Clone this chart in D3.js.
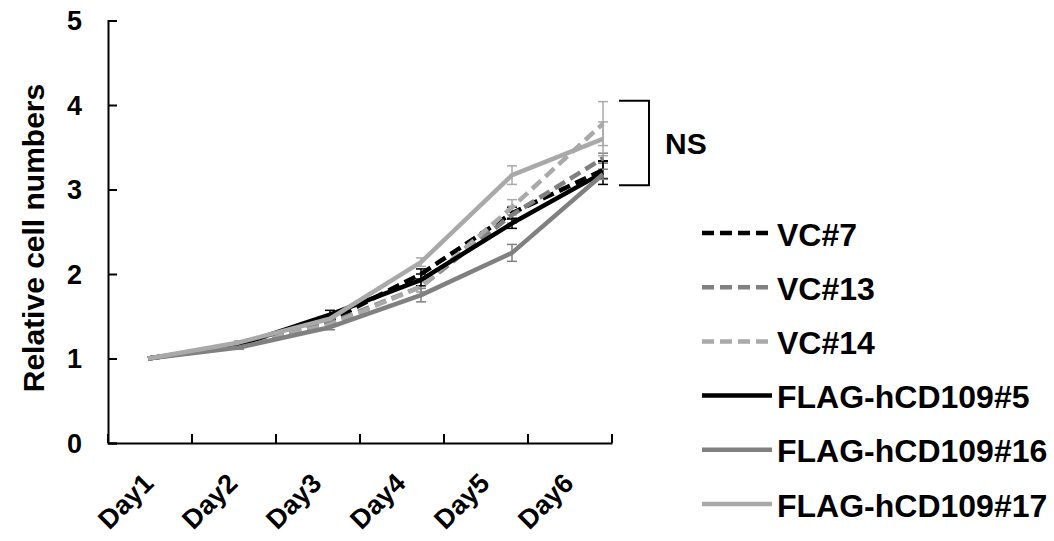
<!DOCTYPE html>
<html>
<head>
<meta charset="utf-8">
<script src="https://cdn.jsdelivr.net/npm/d3@7"></script>
<style>
  body { margin: 0; background: #fff; }
  text { font-family: Arial, "Liberation Sans", sans-serif; font-weight: bold; }
</style>
</head>
<body>
<div id="app"></div>
<script>
const days = ["Day1", "Day2", "Day3", "Day4", "Day5", "Day6"]
const yTicks = [0, 1, 2, 3, 4, 5]
const seriesNames = ["VC#7", "VC#13", "VC#14", "FLAG-hCD109#5", "FLAG-hCD109#16", "FLAG-hCD109#17"]

const vc7 = [1, 1.16, 1.45, 2.0, 2.72, 3.23]
const vc13 = [1, 1.15, 1.42, 1.85, 2.70, 3.37]
const vc14 = [1, 1.16, 1.40, 1.85, 2.79, 3.78]
const flag5 = [1, 1.16, 1.52, 1.93, 2.60, 3.20]
const flag16 = [1, 1.13, 1.37, 1.75, 2.25, 3.18]
const flag17 = [1, 1.19, 1.47, 2.14, 3.17, 3.60]

const vc7Err = [0, 0.02, 0.04, 0.06, 0.07, 0.10]
const vc13Err = [0, 0.02, 0.03, 0.06, 0.10, 0.06]
const vc14Err = [0, 0.02, 0.03, 0.06, 0.09, 0.26]
const flag5Err = [0, 0.02, 0.05, 0.07, 0.06, 0.14]
const flag16Err = [0, 0.02, 0.03, 0.08, 0.10, 0.06]
const flag17Err = [0, 0.02, 0.03, 0.05, 0.11, 0.20]

const nsRange = [3.05, 4.05]

const series = [
  { name: seriesNames[0], values: vc7, err: vc7Err, color: "#000000", dash: "12,6" },
  { name: seriesNames[1], values: vc13, err: vc13Err, color: "#808080", dash: "12,6" },
  { name: seriesNames[2], values: vc14, err: vc14Err, color: "#a9a9a9", dash: "12,6" },
  { name: seriesNames[3], values: flag5, err: flag5Err, color: "#000000", dash: null },
  { name: seriesNames[4], values: flag16, err: flag16Err, color: "#808080", dash: null },
  { name: seriesNames[5], values: flag17, err: flag17Err, color: "#a9a9a9", dash: null },
]

const W = 1054, H = 541
const plot = { left: 108, right: 612, top: 20.5, bottom: 443 }

const svg = d3.select("#app").append("svg")
  .attr("width", W).attr("height", H)

const xBand = d3.scaleBand().domain(days).range([plot.left, plot.right])
// the line layer sits slightly wider than the category bands
const xPoint = d3.scalePoint().domain(days).range([148, 603])
const y = d3.scaleLinear().domain([0, 5]).range([plot.bottom, plot.top])

// axes
const xAxis = svg.append("g")
  .attr("transform", `translate(0,${plot.bottom})`)
  .call(d3.axisTop(xBand).tickSize(0).tickFormat(""))
xAxis.select(".domain").attr("stroke", "#000").attr("stroke-width", 2)
xAxis.selectAll(".bandtick")
  .data(d3.range(days.length + 1))
  .join("line")
  .attr("x1", i => plot.left + i * xBand.step())
  .attr("x2", i => plot.left + i * xBand.step())
  .attr("y1", 0).attr("y2", -9)
  .attr("stroke", "#000").attr("stroke-width", 2)

svg.append("g").selectAll("text")
  .data(days)
  .join("text")
  .attr("text-anchor", "end")
  .attr("font-size", 27)
  .attr("transform", d => `translate(${xBand(d) + xBand.bandwidth() / 2 + 5},${plot.bottom + 42}) rotate(-45)`)
  .text(d => d)

const yAxis = svg.append("g")
  .attr("transform", `translate(${plot.left},0)`)
  .call(d3.axisRight(y).tickValues(yTicks).tickSize(9).tickFormat(""))
yAxis.select(".domain").attr("stroke", "#000").attr("stroke-width", 2)
yAxis.selectAll(".tick line").attr("stroke", "#000").attr("stroke-width", 2)

svg.append("g").selectAll("text")
  .data(yTicks)
  .join("text")
  .attr("x", 82)
  .attr("y", d => y(d))
  .attr("dy", "0.36em")
  .attr("text-anchor", "end")
  .attr("font-size", 27)
  .text(d => d)

svg.append("text")
  .attr("transform", `translate(44,238) rotate(-90)`)
  .attr("text-anchor", "middle")
  .attr("font-size", 30)
  .text("Relative cell numbers")

// error bars
const errG = svg.append("g")
series.forEach(s => {
  const g = errG.append("g").attr("stroke", s.color).attr("stroke-width", 1.5)
  days.forEach((d, i) => {
    if (!s.err[i]) return
    const cx = xPoint(d)
    const hi = y(s.values[i] + s.err[i]), lo = y(s.values[i] - s.err[i])
    g.append("line").attr("x1", cx).attr("x2", cx).attr("y1", hi).attr("y2", lo)
    g.append("line").attr("x1", cx - 5).attr("x2", cx + 5).attr("y1", hi).attr("y2", hi)
    g.append("line").attr("x1", cx - 5).attr("x2", cx + 5).attr("y1", lo).attr("y2", lo)
  })
})

const line = d3.line()
  .x((d, i) => xPoint(days[i]))
  .y(d => y(d))

svg.append("g").selectAll("path")
  .data(series)
  .join("path")
  .attr("d", d => line(d.values))
  .attr("fill", "none")
  .attr("stroke", d => d.color)
  .attr("stroke-width", 4.5)
  .attr("stroke-linejoin", "round")
  .attr("stroke-dasharray", d => d.dash)

// NS bracket
svg.append("path")
  .attr("d", `M619,${y(nsRange[1])}H649V${y(nsRange[0])}H619`)
  .attr("fill", "none")
  .attr("stroke", "#000")
  .attr("stroke-width", 2)
svg.append("text")
  .attr("x", 665)
  .attr("y", y(d3.mean(nsRange)))
  .attr("dy", "0.36em")
  .attr("font-size", 30)
  .text("NS")

// legend
const legend = svg.append("g")
  .selectAll("g")
  .data(series)
  .join("g")
  .attr("transform", (d, i) => `translate(702,${234 + i * 54.2})`)
legend.append("line")
  .attr("x1", 0).attr("x2", 70)
  .attr("y1", -1).attr("y2", -1)
  .attr("stroke", d => d.color)
  .attr("stroke-width", 4.5)
  .attr("stroke-dasharray", d => d.dash)
legend.append("text")
  .attr("x", 75)
  .attr("dy", "0.36em")
  .attr("font-size", 32)
  .text(d => d.name)
</script>
</body>
</html>
